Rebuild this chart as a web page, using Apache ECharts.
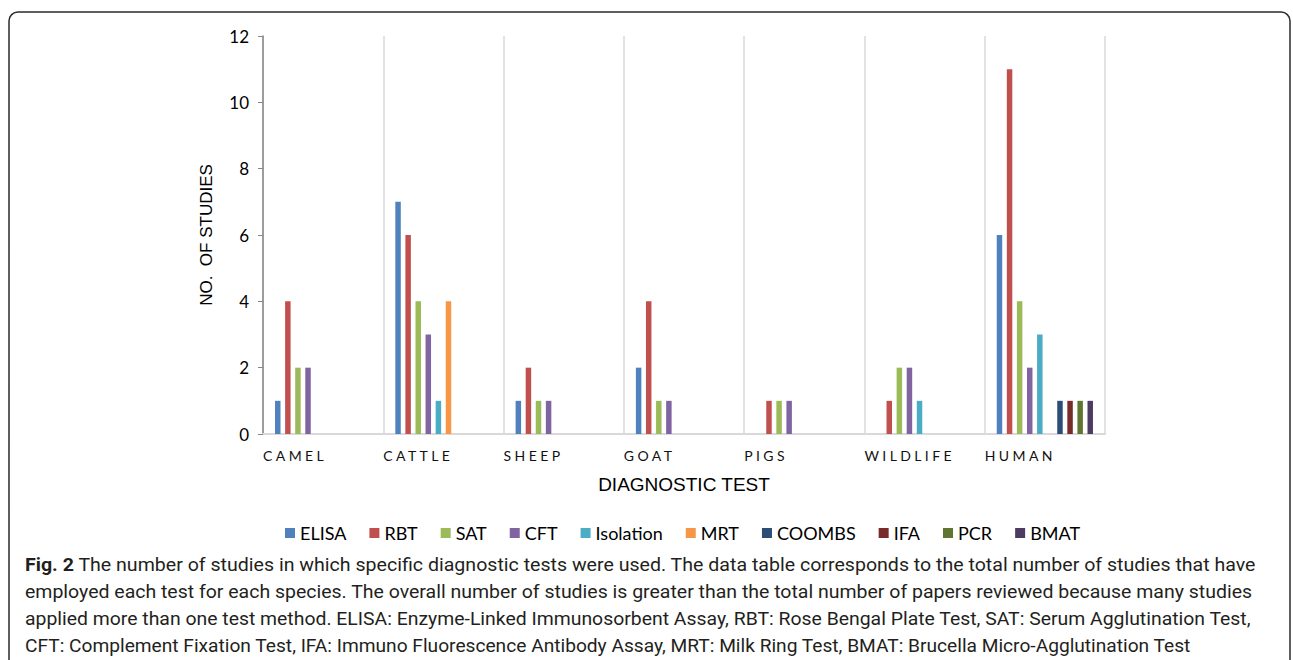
<!DOCTYPE html>
<html>
<head>
<meta charset="utf-8">
<script src="https://cdn.jsdelivr.net/npm/echarts@6/dist/echarts.min.js"></script>
<style>
html,body{margin:0;padding:0;background:#fff;}
#chart{width:1293px;height:660px;}
</style>
</head>
<body>
<div id="chart"></div>
<script>
// ---- data ----
const categories = ['CAMEL', 'CATTLE', 'SHEEP', 'GOAT', 'PIGS', 'WILDLIFE', 'HUMAN'];
const seriesNames = ['ELISA', 'RBT', 'SAT', 'CFT', 'Isolation', 'MRT', 'COOMBS', 'IFA', 'PCR', 'BMAT'];
const elisa     = [1, 7, 1, 2, null, null, 6];
const rbt       = [4, 6, 2, 4, 1, 1, 11];
const sat       = [2, 4, 1, 1, 1, 2, 4];
const cft       = [2, 3, 1, 1, 1, 2, 2];
const isolation = [null, 1, null, null, null, 1, 3];
const mrt       = [null, 4, null, null, null, null, null];
const coombs    = [null, null, null, null, null, null, 1];
const ifa       = [null, null, null, null, null, null, 1];
const pcr       = [null, null, null, null, null, null, 1];
const bmat      = [null, null, null, null, null, null, 1];
const yTicks = [0, 2, 4, 6, 8, 10, 12];
const yAxisTitle = 'NO.  OF STUDIES';
const xAxisTitle = 'DIAGNOSTIC TEST';
const captionBold = 'Fig. 2';
const captionLines = [
  ' The number of studies in which specific diagnostic tests were used. The data table corresponds to the total number of studies that have',
  'employed each test for each species. The overall number of studies is greater than the total number of papers reviewed because many studies',
  'applied more than one test method. ELISA: Enzyme-Linked Immunosorbent Assay, RBT: Rose Bengal Plate Test, SAT: Serum Agglutination Test,',
  'CFT: Complement Fixation Test, IFA: Immuno Fluorescence Antibody Assay, MRT: Milk Ring Test, BMAT: Brucella Micro-Agglutination Test'
];

// ---- styling ----
const values = [elisa, rbt, sat, cft, isolation, mrt, coombs, ifa, pcr, bmat];
const colors = ['#4F81BD', '#C0504D', '#9BBB59', '#8064A2', '#4BACC6', '#F79646', '#2C4D75', '#772C2A', '#5F7530', '#4D3B62'];

const series = seriesNames.map((n, i) => ({
  name: n,
  type: 'bar',
  data: values[i],
  barCategoryGap: '20%',
  barGap: '84%',
  itemStyle: { color: colors[i] }
}));

// caption layout (measured)
const mc = document.createElement('canvas').getContext('2d');
const capFont = 'Roboto';
const capSize = 18;
function measure(txt, weight) {
  mc.font = weight + ' ' + capSize + 'px ' + capFont;
  return mc.measureText(txt).width;
}
const capX = 25;
const capEnds = [1257, 1253, 1252, 1192];
const capY = [565, 592, 619, 646];
const graphics = [];
graphics.push({
  type: 'rect', silent: true,
  shape: { x: 9, y: 12, width: 1281, height: 720, r: 9 },
  style: { fill: 'none', stroke: '#2b2b2b', lineWidth: 1.5 }
});
captionLines.forEach((line, i) => {
  let wb = 0;
  if (i === 0) wb = measure(captionBold, 'bold');
  const wr = measure(line, 'normal');
  const s = (capEnds[i] - capX) / (wb + wr);
  if (i === 0) {
    graphics.push({
      type: 'text', silent: true, x: capX, y: capY[i], scaleX: s, originX: 0, originY: 0,
      style: { text: captionBold, font: 'bold ' + capSize + 'px ' + capFont, fill: '#231f20', verticalAlign: 'middle', align: 'left' }
    });
  }
  const x0 = capX + wb * s;
  graphics.push({
    type: 'text', silent: true, x: x0, y: capY[i], scaleX: s, originX: 0, originY: 0,
    style: { text: line, font: capSize + 'px ' + capFont, fill: '#231f20', verticalAlign: 'middle', align: 'left', whiteSpace: 'pre' }
  });
});

const chart = echarts.init(document.getElementById('chart'), null, { renderer: 'svg' });
chart.setOption({
  animation: false,
  color: colors,
  grid: { left: 263, right: 188, top: 36, bottom: 226, containLabel: false },
  legend: {
    data: seriesNames,
    top: 519,
    left: 280,
    icon: 'rect',
    itemWidth: 10,
    itemHeight: 10,
    itemGap: 23,
    textStyle: { fontFamily: 'Lato', fontSize: 18, color: '#000' }
  },
  xAxis: [{
    type: 'category',
    data: categories,
    name: xAxisTitle,
    nameLocation: 'middle',
    nameGap: 41,
    nameTextStyle: { fontFamily: 'Liberation Sans', fontSize: 19, color: '#000' },
    axisLine: { lineStyle: { color: '#d9d9d9', width: 2 } },
    axisTick: { show: false },
    axisLabel: { show: false },
    splitLine: { show: true, lineStyle: { color: '#d9d9d9', width: 1.5 } }
  }, {
    type: 'category',
    position: 'bottom',
    data: categories.concat(['']),
    boundaryGap: false,
    axisLine: { show: false },
    axisTick: { show: false },
    splitLine: { show: false },
    axisLabel: { align: 'left', margin: 14, interval: 0, fontFamily: 'Lato', fontSize: 14, color: '#111' }
  }],
  yAxis: {
    type: 'value',
    min: yTicks[0],
    max: yTicks[yTicks.length - 1],
    interval: yTicks[1] - yTicks[0],
    name: yAxisTitle,
    nameLocation: 'middle',
    nameGap: 48,
    nameTextStyle: { fontFamily: 'Liberation Sans', fontSize: 17, color: '#000' },
    axisLine: { show: true, lineStyle: { color: '#868686', width: 1.5 } },
    axisTick: { show: true, length: 5, lineStyle: { color: '#868686' } },
    axisLabel: { margin: 14, fontFamily: 'Lato', fontSize: 17, color: '#000' },
    splitLine: { show: false }
  },
  graphic: graphics,
  series: series
});

function spaceLabels() {
  const texts = document.querySelectorAll('#chart svg text');
  texts.forEach(t => {
    if (categories.indexOf(t.textContent) >= 0) {
      t.setAttribute('letter-spacing', '3.4');
    }
  });
}
chart.on('finished', spaceLabels);
setTimeout(spaceLabels, 50);
setTimeout(spaceLabels, 300);
</script>
</body>
</html>
